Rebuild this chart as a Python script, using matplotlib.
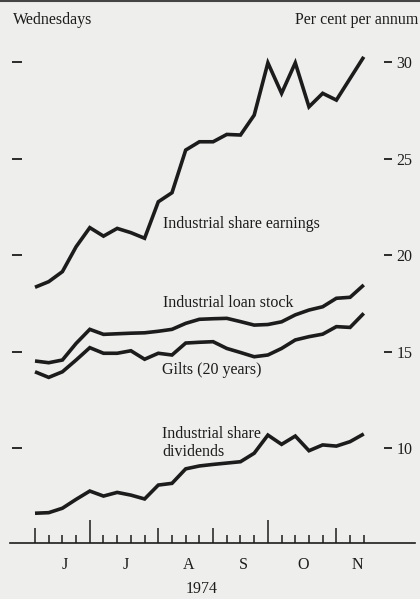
import numpy as np
import matplotlib
matplotlib.use("Agg")
import matplotlib.pyplot as plt
from matplotlib.lines import Line2D

# weekly readings (Wednesdays, 5 June - 20 November 1974), per cent per annum
weeks = ["5 Jun", "12 Jun", "19 Jun", "26 Jun", "3 Jul", "10 Jul", "17 Jul", "24 Jul", "31 Jul",
         "7 Aug", "14 Aug", "21 Aug", "28 Aug", "4 Sep", "11 Sep", "18 Sep", "25 Sep",
         "2 Oct", "9 Oct", "16 Oct", "23 Oct", "30 Oct", "6 Nov", "13 Nov", "20 Nov"]
earnings = [18.33, 18.62, 19.14, 20.43, 21.42, 20.98, 21.38, 21.16, 20.87, 22.76, 23.23, 25.44, 25.87,
            25.87, 26.25, 26.22, 27.25, 29.96, 28.38, 29.96, 27.68, 28.38, 28.03, 29.15, 30.27]
loan_stock = [14.51, 14.42, 14.56, 15.42, 16.15, 15.89, 15.92, 15.95, 15.97, 16.05, 16.15, 16.46, 16.67,
              16.70, 16.72, 16.55, 16.37, 16.40, 16.54, 16.90, 17.15, 17.32, 17.76, 17.81, 18.45]
gilts = [13.95, 13.66, 13.95, 14.56, 15.20, 14.91, 14.91, 15.04, 14.60, 14.91, 14.82, 15.44, 15.48,
         15.51, 15.16, 14.95, 14.73, 14.82, 15.16, 15.60, 15.77, 15.90, 16.29, 16.25, 16.98]
dividends = [6.62, 6.65, 6.88, 7.34, 7.77, 7.51, 7.70, 7.56, 7.36, 8.08, 8.17, 8.92, 9.07,
             9.15, 9.22, 9.29, 9.73, 10.67, 10.19, 10.62, 9.86, 10.16, 10.10, 10.33, 10.73]

months = ["J", "J", "A", "S", "O", "N"]
month_pos = [2.2, 6.6, 11.2, 15.2, 19.6, 23.5]
month_start = {0: "mid", 4: "tall", 9: "mid", 13: "mid", 17: "tall", 22: "mid"}
yticks = [10, 15, 20, 25, 30]

bg = "#eeeeec"
ink = "#1c1c1c"
plt.rcParams["font.family"] = ["Liberation Serif", "DejaVu Serif"]

fig = plt.figure(figsize=(4.2, 5.99), dpi=100, facecolor=bg)
ax = fig.add_axes([12/420, 1 - 543/599, 380/420, 523/599])
ax.set_facecolor(bg)

x = np.arange(len(weeks))
for s in [earnings, loan_stock, gilts, dividends]:
    ax.plot(x, s, color=ink, lw=2.6, solid_joinstyle="miter", solid_capstyle="butt")

ax.set_xlim(-1.679, 26.06)
ax.set_ylim(5.078, 32.18)
for sp in ax.spines.values():
    sp.set_visible(False)

# baseline runs a little past the tick area on both sides
ax.plot([-0.0053, 1.0605], [0, 0], transform=ax.transAxes, color=ink, lw=1.2, clip_on=False)

ax.set_xticks(x)
ax.set_xticklabels([""] * len(x))
ax.tick_params(axis="x", which="major", direction="in", width=1.1, length=5.8, color=ink)
lengths = {"mid": 10.8, "tall": 16.6}
for i, t in enumerate(ax.xaxis.get_major_ticks()):
    if i in month_start:
        t.tick1line.set_markersize(lengths[month_start[i]])

ax.set_xticks(month_pos, minor=True)
ax.set_xticklabels(months, minor=True, fontsize=11.5, color=ink)
ax.tick_params(axis="x", which="minor", length=0, pad=10)
ax.set_xlabel("1974", fontsize=11.5, color=ink, labelpad=6)

ax.set_yticks(yticks)
ax.tick_params(axis="y", left=True, right=True, labelleft=False, labelright=True,
               direction="in", width=1.3, color=ink, labelsize=11.5, labelcolor=ink, pad=3)
for t in ax.yaxis.get_major_ticks():
    t.tick1line.set_markersize(7.2)
    t.tick2line.set_markersize(5.8)

lab = dict(fontsize=11.5, color=ink, va="center", ha="left")
ax.text(9.34, 21.6, "Industrial share earnings", **lab)
ax.text(9.34, 17.51, "Industrial loan stock", **lab)
ax.text(9.27, 14.04, "Gilts (20 years)", **lab)
ax.text(9.27, 10.72, "Industrial share", **lab)
ax.text(9.27, 9.80, "dividends", **lab)

fig.text(13/420, 1 - 20/599, "Wednesdays", fontsize=11.5, color=ink, va="center", ha="left")
fig.text(418/420, 1 - 20/599, "Per cent per annum", fontsize=11.5, color=ink, va="center", ha="right")
fig.add_artist(Line2D([0, 1], [1 - 1/599, 1 - 1/599], color="#444444", lw=1.5))

fig.savefig("out.png", dpi=100, facecolor=bg)
